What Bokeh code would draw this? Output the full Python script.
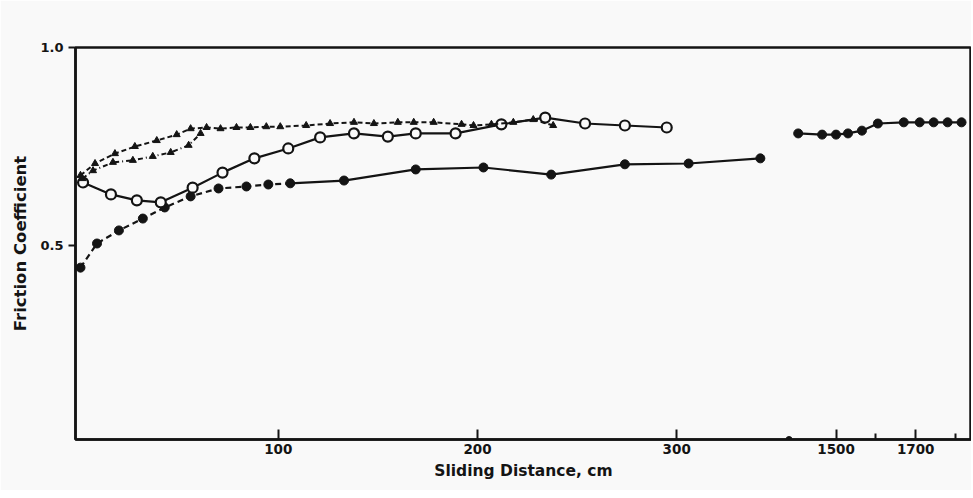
from bokeh.plotting import figure
from bokeh.models import Range1d, FixedTicker
from bokeh.embed import file_html
from bokeh.resources import INLINE

# ---- data (sliding distance in cm, friction coefficient) ----
filled_x = [0.7, 9, 20, 32, 43, 56, 70, 84, 95, 106, 133, 169, 203, 237, 274, 306, 342,
            1405, 1465, 1500, 1530, 1565, 1605, 1670, 1710, 1745, 1780, 1815]
filled_y = [0.444, 0.505, 0.538, 0.568, 0.596, 0.624, 0.644, 0.649, 0.654, 0.657, 0.664,
            0.692, 0.697, 0.679, 0.705, 0.707, 0.720,
            0.783, 0.780, 0.780, 0.783, 0.790, 0.808, 0.811, 0.811, 0.811, 0.811, 0.811]

open_x = [2, 16, 29, 41, 57, 72, 88, 105, 121, 138, 155, 169, 189, 212, 234, 254, 274, 295]
open_y = [0.659, 0.629, 0.614, 0.609, 0.646, 0.684, 0.720, 0.745, 0.773, 0.783, 0.775,
          0.783, 0.783, 0.806, 0.823, 0.808, 0.803, 0.798]

tri_up_x = [0.7, 8, 18, 28, 39, 49, 56, 64, 71, 79, 86, 94, 101, 114, 126, 138, 148, 160,
            168, 178, 192, 198, 207, 218, 228, 238]
tri_up_y = [0.677, 0.707, 0.732, 0.750, 0.765, 0.780, 0.795, 0.798, 0.795, 0.798, 0.798,
            0.800, 0.800, 0.803, 0.808, 0.811, 0.808, 0.811, 0.811, 0.811, 0.806, 0.803,
            0.806, 0.811, 0.818, 0.803]

tri_lo_x = [1.7, 7, 17, 27, 37, 46, 55, 61]
tri_lo_y = [0.669, 0.689, 0.710, 0.715, 0.725, 0.735, 0.753, 0.783]

x_tick_values = [100, 200, 300, 1500, 1700]
x_minor_values = [1600, 1800]
y_tick_values = [0.5, 1.0]

# ---- broken x axis: 0..~380 cm linear, then compressed section from ~1380 cm ----
SPLIT = 1000        # values above this belong to the second section
SECOND_ORIGIN = 1500
SECOND_POS = 380
SECOND_SCALE = 0.2
BREAK_VALUE = 1382


def tx(v):
    return v if v < SPLIT else SECOND_POS + (v - SECOND_ORIGIN) * SECOND_SCALE


INK = "#141414"
BG = "#f9f9f9"

p = figure(width=971, height=490, output_backend="svg", toolbar_location=None,
           x_range=Range1d(-1.8, 448), y_range=Range1d(0.01, 1.0),
           min_border_left=75, min_border_top=47, min_border_bottom=51, min_border_right=0)
p.background_fill_color = BG
p.border_fill_color = BG
p.outline_line_color = INK
p.outline_line_width = 2.5
p.grid.visible = False

# filled circles
fl_x = [tx(v) for v in filled_x if v < SPLIT]
fl_y = [y for v, y in zip(filled_x, filled_y) if v < SPLIT]
fr_x = [tx(v) for v in filled_x if v >= SPLIT]
fr_y = [y for v, y in zip(filled_x, filled_y) if v >= SPLIT]
p.line(fl_x[:10], fl_y[:10], line_color=INK, line_width=2.2, line_dash="6 4")
p.line(fl_x[9:], fl_y[9:], line_color=INK, line_width=2.2)
p.line(fr_x, fr_y, line_color=INK, line_width=2.2)
p.scatter(fl_x + fr_x, fl_y + fr_y, marker="circle", size=9, fill_color=INK, line_color=INK)

# open circles
ox = [tx(v) for v in open_x]
p.line(ox, open_y, line_color=INK, line_width=2.2)
p.scatter(ox, open_y, marker="circle", size=10, fill_color=BG, line_color=INK, line_width=2.2)

# triangles (upper, dashed)
tux = [tx(v) for v in tri_up_x]
p.line(tux, tri_up_y, line_color=INK, line_width=2, line_dash="5 3")
p.scatter(tux, tri_up_y, marker="triangle", size=7, fill_color=INK, line_color=INK)

# triangles (lower, dash-dot)
tlx = [tx(v) for v in tri_lo_x]
p.line(tlx, tri_lo_y, line_color=INK, line_width=2, line_dash="5 3 1 3")
p.scatter(tlx, tri_lo_y, marker="triangle", size=7, fill_color=INK, line_color=INK)

# axis break indicator
p.scatter([tx(BREAK_VALUE)], [0.01], marker="circle", size=6, fill_color=INK, line_color=INK)

# x axis
xa = p.xaxis[0]
xa.ticker = FixedTicker(ticks=[tx(v) for v in x_tick_values],
                        minor_ticks=[tx(v) for v in x_minor_values])
xa.major_label_overrides = {tx(v): str(v) for v in x_tick_values}
xa.major_tick_in = 10
xa.major_tick_out = 0
xa.minor_tick_in = 6
xa.minor_tick_out = 0
xa.major_tick_line_width = 2
xa.minor_tick_line_width = 2
xa.axis_line_width = 2.5
xa.axis_line_color = INK
xa.major_tick_line_color = INK
xa.minor_tick_line_color = INK
xa.major_label_text_font = "DejaVu Sans"
xa.major_label_text_font_style = "bold"
xa.major_label_text_font_size = "13.5px"
xa.major_label_text_color = INK
xa.major_label_standoff = 4
xa.axis_label = "Sliding Distance, cm"
xa.axis_label_text_font = "DejaVu Sans"
xa.axis_label_text_font_style = "bold"
xa.axis_label_text_font_size = "15.5px"
xa.axis_label_text_color = INK
xa.axis_label_standoff = 5

# y axis
ya = p.yaxis[0]
ya.ticker = FixedTicker(ticks=y_tick_values, minor_ticks=[])
ya.major_label_overrides = {0.5: "0.5", 1.0: "1.0"}
ya.major_tick_in = 0
ya.major_tick_out = 7
ya.major_tick_line_width = 2
ya.axis_line_width = 2.5
ya.axis_line_color = INK
ya.major_tick_line_color = INK
ya.major_label_text_font = "DejaVu Sans"
ya.major_label_text_font_style = "bold"
ya.major_label_text_font_size = "13px"
ya.major_label_text_color = INK
ya.major_label_standoff = 5
ya.axis_label = "Friction Coefficient"
ya.axis_label_text_font = "DejaVu Sans"
ya.axis_label_text_font_style = "bold"
ya.axis_label_text_font_size = "16.5px"
ya.axis_label_text_color = INK
ya.axis_label_standoff = 7

open("out.html", "w").write(file_html(p, INLINE))
